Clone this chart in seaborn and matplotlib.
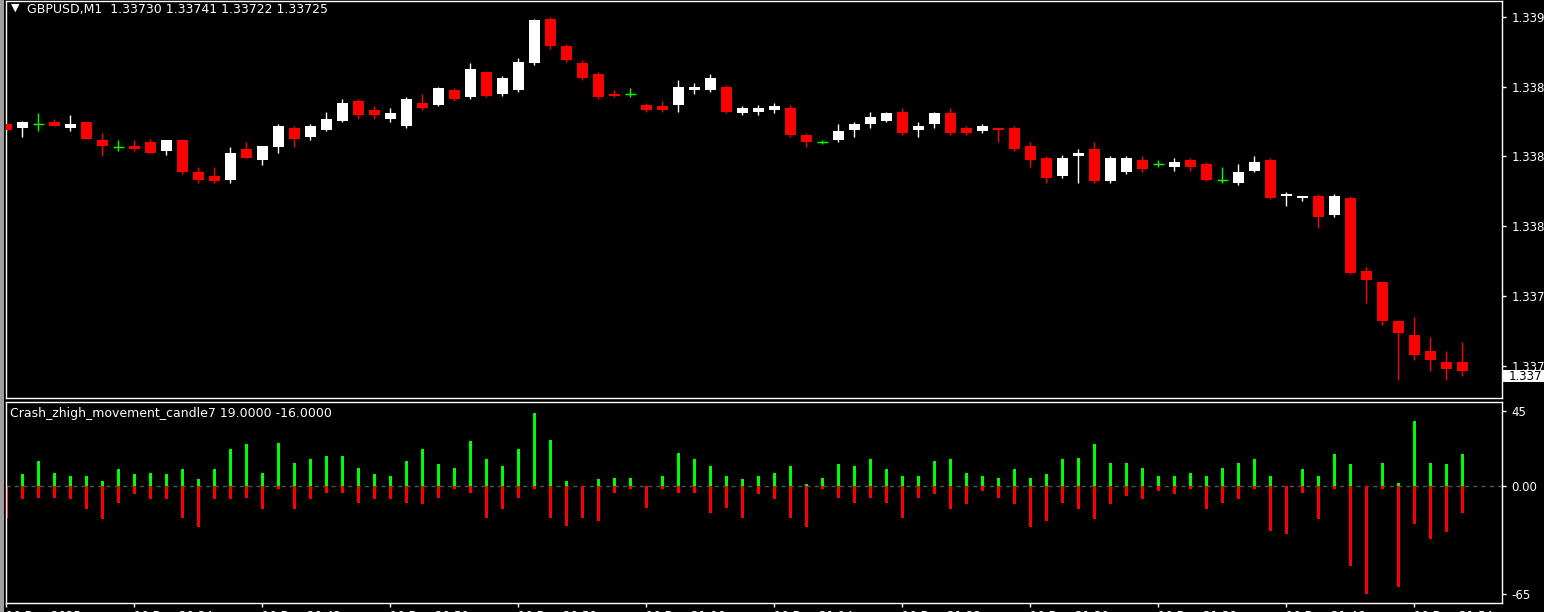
import numpy as np
import pandas as pd
import matplotlib
matplotlib.use("Agg")
import matplotlib.pyplot as plt
import seaborn as sns
from matplotlib.patches import Rectangle
from matplotlib.transforms import blended_transform_factory

# GBPUSD M1 candles (oldest -> newest)
opens = [1.33863, 1.33861, 1.33863, 1.33864, 1.33861, 1.33864, 1.33854, 1.33850, 1.33851, 1.33853,
         1.33848, 1.33854, 1.33836, 1.33834, 1.33832, 1.33849, 1.33843, 1.33850, 1.33861, 1.33856,
         1.33860, 1.33865, 1.33876, 1.33871, 1.33866, 1.33862, 1.33875, 1.33874, 1.33882, 1.33878,
         1.33892, 1.33880, 1.33882, 1.33897, 1.33922, 1.33907, 1.33897, 1.33891, 1.33880, 1.33880,
         1.33874, 1.33873, 1.33874, 1.33882, 1.33882, 1.33884, 1.33869, 1.33870, 1.33871, 1.33872,
         1.33857, 1.33853, 1.33854, 1.33860, 1.33863, 1.33865, 1.33870, 1.33860, 1.33863, 1.33869,
         1.33861, 1.33859, 1.33861, 1.33861, 1.33851, 1.33844, 1.33834, 1.33845, 1.33849, 1.33831,
         1.33836, 1.33843, 1.33841, 1.33839, 1.33843, 1.33841, 1.33832, 1.33830, 1.33837, 1.33843,
         1.33823, 1.33822, 1.33823, 1.33812, 1.33822, 1.33781, 1.33775, 1.33753, 1.33745, 1.33736,
         1.33730, 1.33730]
highs = [1.33864, 1.33865, 1.33869, 1.33866, 1.33868, 1.33864, 1.33858, 1.33854, 1.33854, 1.33855,
         1.33854, 1.33854, 1.33839, 1.33839, 1.33850, 1.33853, 1.33851, 1.33863, 1.33862, 1.33863,
         1.33870, 1.33877, 1.33877, 1.33873, 1.33872, 1.33878, 1.33880, 1.33884, 1.33883, 1.33897,
         1.33893, 1.33890, 1.33900, 1.33922, 1.33923, 1.33908, 1.33899, 1.33892, 1.33882, 1.33883,
         1.33875, 1.33876, 1.33888, 1.33886, 1.33891, 1.33885, 1.33873, 1.33874, 1.33875, 1.33874,
         1.33858, 1.33854, 1.33863, 1.33864, 1.33870, 1.33870, 1.33872, 1.33864, 1.33870, 1.33872,
         1.33862, 1.33863, 1.33861, 1.33862, 1.33853, 1.33845, 1.33846, 1.33849, 1.33853, 1.33845,
         1.33845, 1.33845, 1.33843, 1.33844, 1.33844, 1.33842, 1.33839, 1.33841, 1.33845, 1.33844,
         1.33825, 1.33823, 1.33824, 1.33824, 1.33823, 1.33783, 1.33775, 1.33753, 1.33755, 1.33744,
         1.33736, 1.33741]
lows = [1.33859, 1.33856, 1.33859, 1.33862, 1.33859, 1.33855, 1.33845, 1.33848, 1.33848, 1.33847,
        1.33846, 1.33835, 1.33830, 1.33830, 1.33830, 1.33844, 1.33840, 1.33847, 1.33850, 1.33854,
        1.33859, 1.33864, 1.33866, 1.33866, 1.33864, 1.33861, 1.33871, 1.33873, 1.33876, 1.33877,
        1.33878, 1.33879, 1.33881, 1.33896, 1.33905, 1.33898, 1.33888, 1.33877, 1.33878, 1.33878,
        1.33870, 1.33870, 1.33870, 1.33880, 1.33881, 1.33869, 1.33868, 1.33868, 1.33869, 1.33856,
        1.33850, 1.33852, 1.33853, 1.33856, 1.33861, 1.33864, 1.33857, 1.33856, 1.33861, 1.33857,
        1.33857, 1.33858, 1.33853, 1.33848, 1.33839, 1.33830, 1.33833, 1.33830, 1.33830, 1.33830,
        1.33835, 1.33836, 1.33839, 1.33837, 1.33837, 1.33831, 1.33830, 1.33829, 1.33836, 1.33821,
        1.33817, 1.33820, 1.33805, 1.33811, 1.33779, 1.33763, 1.33751, 1.33720, 1.33731, 1.33725,
        1.33720, 1.33722]
closes = [1.33860, 1.33864, 1.33863, 1.33862, 1.33863, 1.33855, 1.33851, 1.33850, 1.33849, 1.33847,
          1.33854, 1.33836, 1.33832, 1.33831, 1.33847, 1.33844, 1.33851, 1.33862, 1.33855, 1.33862,
          1.33866, 1.33875, 1.33868, 1.33868, 1.33869, 1.33877, 1.33872, 1.33883, 1.33877, 1.33894,
          1.33879, 1.33889, 1.33898, 1.33921, 1.33907, 1.33899, 1.33889, 1.33878, 1.33879, 1.33880,
          1.33871, 1.33871, 1.33884, 1.33884, 1.33889, 1.33870, 1.33872, 1.33872, 1.33873, 1.33857,
          1.33853, 1.33853, 1.33859, 1.33863, 1.33867, 1.33869, 1.33858, 1.33862, 1.33869, 1.33858,
          1.33858, 1.33862, 1.33860, 1.33849, 1.33843, 1.33833, 1.33844, 1.33847, 1.33831, 1.33844,
          1.33844, 1.33838, 1.33841, 1.33842, 1.33839, 1.33832, 1.33832, 1.33836, 1.33842, 1.33822,
          1.33824, 1.33823, 1.33811, 1.33823, 1.33780, 1.33776, 1.33753, 1.33746, 1.33734, 1.33731,
          1.33726, 1.33725]

# Crash_zhigh_movement_candle7 buffers
ups = [0, 7, 15, 8, 6, 6, 3, 10, 7, 8, 7, 10, 4, 10, 22, 25, 8, 26, 14, 16,
       18, 18, 11, 7, 6, 15, 22, 13, 11, 27, 16, 12, 22, 44, 28, 3, 0, 4, 5, 5,
       0, 6, 20, 16, 12, 6, 4, 6, 8, 12, 1, 5, 13, 12, 16, 10, 6, 6, 15, 16,
       8, 6, 5, 10, 5, 7, 16, 17, 25, 14, 14, 11, 6, 6, 8, 6, 11, 14, 16, 6,
       0, 10, 6, 19, 13, 0, 14, 2, 39, 14, 13, 19]
downs = [-19, -8, -7, -7, -8, -14, -20, -10, -5, -8, -8, -19, -25, -8, -8, -7, -14, -2, -14, -8,
         -4, -4, -10, -8, -8, -10, -11, -7, -2, -4, -19, -14, -7, -2, -19, -24, -19, -21, -4, -2,
         -13, -2, -4, -4, -16, -13, -19, -5, -8, -19, -25, -2, -7, -10, -7, -10, -19, -7, -5, -14,
         -11, -3, -7, -11, -25, -21, -10, -14, -20, -11, -6, -8, -3, -5, -2, -14, -10, -8, -2, -27,
         -29, -4, -20, -2, -48, -65, -2, -61, -23, -32, -28, -16]

time_labels = ["10 Dec 2025", "10 Dec 20:34", "10 Dec 20:42", "10 Dec 20:50", "10 Dec 20:58",
               "10 Dec 21:06", "10 Dec 21:14", "10 Dec 21:22", "10 Dec 21:30", "10 Dec 21:38",
               "10 Dec 21:46", "10 Dec 21:54"]
price_ticks = [1.33923, 1.33884, 1.33845, 1.33806, 1.33767, 1.33728]
price_tick_labels = ["1.339", "1.338", "1.338", "1.338", "1.337", "1.337"]
ind_ticks = [45, 0, -65]
ind_tick_labels = ["45", "0.00", "-65"]

sns.set_theme(style="dark", rc={
    "figure.facecolor": "black", "axes.facecolor": "black",
    "axes.edgecolor": "white", "axes.linewidth": 1, "axes.grid": False,
    "text.color": "white", "xtick.color": "white", "ytick.color": "white",
})
plt.rcParams["font.family"] = ["DejaVu Sans"]

W, H = 1544, 612
fig = plt.figure(figsize=(W / 100, H / 100), dpi=100)
ax = fig.add_axes([6 / W, 214 / H, 1496 / W, 397 / H])
ax2 = fig.add_axes([6 / W, 9 / H, 1496 / W, 201 / H])

df = pd.DataFrame({"open": opens, "high": highs, "low": lows, "close": closes})
df["x"] = np.arange(len(df))
df["color"] = np.where(df["close"] > df["open"], "white",
                       np.where(df["close"] < df["open"], "#ff0000", "#00ff00"))
body_w = 0.69

ax.vlines(df["x"], df["low"], df["high"], colors=df["color"], linewidth=1, zorder=2)
body = df[df["close"] != df["open"]]
ax.bar(body["x"], (body["close"] - body["open"]).abs(), bottom=body[["open", "close"]].min(axis=1),
       width=body_w, color=body["color"], linewidth=0, zorder=3)
doji = df[df["close"] == df["open"]]
ax.hlines(doji["open"], doji["x"] - body_w / 2, doji["x"] + body_w / 2, colors="#00ff00",
          linewidth=1, zorder=3)

ind = pd.DataFrame({"x": df["x"], "up": ups, "down": downs})
sns.barplot(data=ind, x="x", y="up", native_scale=True, width=0.21, color="#00ff00",
            saturation=1, linewidth=0, errorbar=None, ax=ax2)
sns.barplot(data=ind, x="x", y="down", native_scale=True, width=0.21, color="#ff0000",
            saturation=1, linewidth=0, errorbar=None, ax=ax2)
ax2.axhline(0, color="#4a5a50", linewidth=1, linestyle=(0, (3, 3)), zorder=0)

for a in (ax, ax2):
    a.set_xlim(-0.03, 93.47)
    a.set_xlabel("")
    a.set_ylabel("")
    a.yaxis.tick_right()
    for s in a.spines.values():
        s.set_color("white")
        s.set_linewidth(1)
    a.tick_params(axis="y", direction="out", length=3, width=1, pad=4, labelsize=8.5,
                  colors="white", left=False, right=True)

ax.set_ylim(1.337099, 1.339319)
ax.set_yticks(price_ticks)
ax.set_yticklabels(price_tick_labels)
ax.tick_params(axis="x", bottom=False, labelbottom=False)

ax2.set_ylim(-70.5, 50.6)
ax2.set_yticks(ind_ticks)
ax2.set_yticklabels(ind_tick_labels)
ax2.set_xticks(np.arange(0, len(df), 8))
ax2.set_xticklabels(time_labels)
ax2.tick_params(axis="x", direction="out", length=3, width=1, pad=2, labelsize=8.5,
                colors="white", bottom=True)
for lab in ax2.get_xticklabels():
    lab.set_horizontalalignment("left")

# window border on the left
fig.add_artist(Rectangle((0, 0), 4 / W, 1, transform=fig.transFigure, facecolor="#a0a0a0",
                         edgecolor="none"))

# current price marker
tr = blended_transform_factory(fig.transFigure, ax.transData)
ppx = (1.339319 - 1.337099) / 397
last = closes[-1]
fig.add_artist(Rectangle((1503 / W, last - 11.5 * ppx), 41 / W, 12 * ppx, transform=tr,
                         facecolor="white", edgecolor="none", zorder=5))
fig.text(1509 / W, last - 5.5 * ppx, "1.337", transform=tr, color="black", fontsize=8.5,
         va="center", ha="left", zorder=6)

fig.text(11 / W, 1 - 8 / H, "\u25bc", fontsize=8, color="white", va="center", ha="left")
fig.text(27 / W, 1 - 9 / H, "GBPUSD,M1  1.33730 1.33741 1.33722 1.33725", fontsize=9,
         color="white", va="center", ha="left")
fig.text(10 / W, 1 - 414 / H, "Crash_zhigh_movement_candle7 19.0000 -16.0000", fontsize=9,
         color="white", va="center", ha="left")

fig.savefig("out.png", dpi=100, facecolor="black")
